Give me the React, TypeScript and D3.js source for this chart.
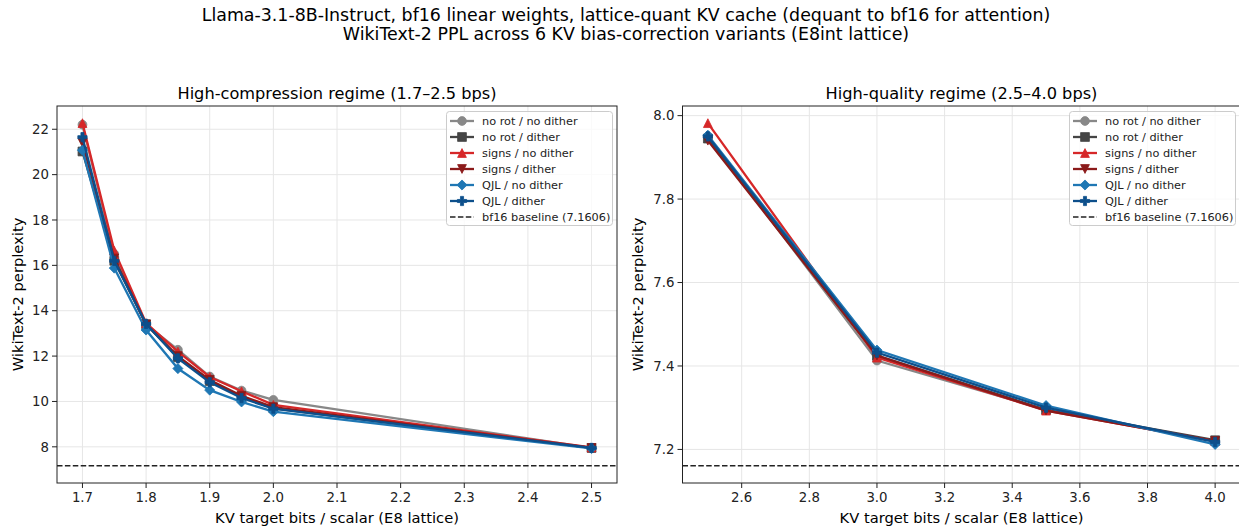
import React, { useEffect, useRef } from 'react';
import * as d3 from 'd3';

// bits per scalar for each regime
const lowBits = [1.7, 1.75, 1.8, 1.85, 1.9, 1.95, 2.0, 2.5];
const highBits = [2.5, 3.0, 3.5, 4.0];

const seriesNames = [
  'no rot / no dither',
  'no rot / dither',
  'signs / no dither',
  'signs / dither',
  'QJL / no dither',
  'QJL / dither',
];
const seriesColors = ['#888888', '#454545', '#d62728', '#8b1a1a', '#1f77b4', '#0d4f8b'];
const seriesMarkers = ['circle', 'square', 'triUp', 'triDown', 'diamond', 'plus'];

// high-compression regime PPL
const lowNoRotNoDither = [22.2, 16.5, 13.4, 12.28, 11.1, 10.48, 10.07, 7.95];
const lowNoRotDither = [21.02, 16.2, 13.4, 11.95, 10.9, 10.2, 9.7, 7.95];
const lowSignsNoDither = [22.27, 16.65, 13.45, 12.2, 11.08, 10.45, 9.85, 7.97];
const lowSignsDither = [21.4, 16.3, 13.4, 12.0, 10.95, 10.25, 9.75, 7.95];
const lowQjlNoDither = [21.08, 15.88, 13.15, 11.45, 10.5, 9.98, 9.55, 7.93];
const lowQjlDither = [21.65, 16.2, 13.42, 11.9, 10.85, 10.15, 9.68, 7.95];

// high-quality regime PPL
const highNoRotNoDither = [7.95, 7.413, 7.295, 7.22];
const highNoRotDither = [7.945, 7.425, 7.295, 7.222];
const highSignsNoDither = [7.982, 7.42, 7.293, 7.22];
const highSignsDither = [7.94, 7.425, 7.293, 7.22];
const highQjlNoDither = [7.953, 7.438, 7.305, 7.212];
const highQjlDither = [7.95, 7.432, 7.3, 7.218];

const baselinePPL = 7.1606;

const lowXTicks = [1.7, 1.8, 1.9, 2.0, 2.1, 2.2, 2.3, 2.4, 2.5];
const lowYTicks = [8, 10, 12, 14, 16, 18, 20, 22];
const highXTicks = [2.6, 2.8, 3.0, 3.2, 3.4, 3.6, 3.8, 4.0];
const highYTicks = [7.2, 7.4, 7.6, 7.8, 8.0];

const FONT = '"DejaVu Sans", Verdana, sans-serif';

function markerPath(kind: string, s: number) {
  const h = s / 2;
  switch (kind) {
    case 'circle':
      return `M${h},0A${h},${h} 0 1,1 ${-h},0A${h},${h} 0 1,1 ${h},0Z`;
    case 'square':
      return `M${-h},${-h}H${h}V${h}H${-h}Z`;
    case 'triUp':
      return `M0,${-h}L${h},${h}L${-h},${h}Z`;
    case 'triDown':
      return `M0,${h}L${h},${-h}L${-h},${-h}Z`;
    case 'diamond': {
      const d = h * 1.15;
      return `M0,${-d}L${d},0L0,${d}L${-d},0Z`;
    }
    default: {
      const a = h * 1.05;
      const w = a / 3;
      return `M${-w},${-a}H${w}V${-w}H${a}V${w}H${w}V${a}H${-w}V${w}H${-a}V${-w}H${-w}Z`;
    }
  }
}

const App = () => {
  const ref = useRef<SVGSVGElement | null>(null);

  useEffect(() => {
    if (!ref.current) return;
    document.body.style.margin = '0';
    const svg = d3.select(ref.current);
    svg.selectAll('*').remove();

    svg.append('text')
      .attr('x', 626).attr('y', 21)
      .attr('text-anchor', 'middle')
      .attr('font-size', 17.4)
      .text('Llama-3.1-8B-Instruct, bf16 linear weights, lattice-quant KV cache (dequant to bf16 for attention)');
    svg.append('text')
      .attr('x', 626).attr('y', 40)
      .attr('text-anchor', 'middle')
      .attr('font-size', 17.4)
      .text('WikiText-2 PPL across 6 KV bias-correction variants (E8int lattice)');

    const panels = [
      {
        left: 57, right: 617, top: 106, bottom: 483,
        bits: lowBits,
        series: [lowNoRotNoDither, lowNoRotDither, lowSignsNoDither, lowSignsDither, lowQjlNoDither, lowQjlDither],
        xTicks: lowXTicks, yTicks: lowYTicks,
        xFmt: d3.format('.1f'), yFmt: d3.format('d'),
        title: 'High-compression regime (1.7–2.5 bps)',
        ylabelX: 23,
      },
      {
        left: 682.5, right: 1240.5, top: 106, bottom: 483,
        bits: highBits,
        series: [highNoRotNoDither, highNoRotDither, highSignsNoDither, highSignsDither, highQjlNoDither, highQjlDither],
        xTicks: highXTicks, yTicks: highYTicks,
        xFmt: d3.format('.1f'), yFmt: d3.format('.1f'),
        title: 'High-quality regime (2.5–4.0 bps)',
        ylabelX: 643,
      },
    ];

    panels.forEach((p) => {
      const xExt = d3.extent(p.bits) as [number, number];
      const allY = p.series.flat().concat([baselinePPL]);
      const yExt = d3.extent(allY) as [number, number];
      const xPad = (xExt[1] - xExt[0]) * 0.05;
      const yPad = (yExt[1] - yExt[0]) * 0.05;

      const x = d3.scaleLinear().domain([xExt[0] - xPad, xExt[1] + xPad]).range([p.left, p.right]);
      const y = d3.scaleLinear().domain([yExt[0] - yPad, yExt[1] + yPad]).range([p.bottom, p.top]);

      const g = svg.append('g');

      // grid
      g.selectAll('.gx').data(p.xTicks).enter().append('line')
        .attr('x1', (d) => x(d)).attr('x2', (d) => x(d))
        .attr('y1', p.top).attr('y2', p.bottom)
        .attr('stroke', '#e6e6e6').attr('stroke-width', 1);
      g.selectAll('.gy').data(p.yTicks).enter().append('line')
        .attr('x1', p.left).attr('x2', p.right)
        .attr('y1', (d) => y(d)).attr('y2', (d) => y(d))
        .attr('stroke', '#e6e6e6').attr('stroke-width', 1);

      // baseline
      g.append('line')
        .attr('x1', p.left).attr('x2', p.right)
        .attr('y1', y(baselinePPL)).attr('y2', y(baselinePPL))
        .attr('stroke', '#222').attr('stroke-width', 1.5)
        .attr('stroke-dasharray', '5.5,2.4');

      const line = d3.line<number>()
        .x((_, i) => x(p.bits[i]))
        .y((d) => y(d));

      p.series.forEach((vals, si) => {
        const sg = g.append('g');
        sg.append('path')
          .attr('d', line(vals))
          .attr('fill', 'none')
          .attr('stroke', seriesColors[si])
          .attr('stroke-width', 2.3);
        sg.selectAll('path.m').data(vals).enter().append('path')
          .attr('class', 'm')
          .attr('transform', (d, i) => `translate(${x(p.bits[i])},${y(d)})`)
          .attr('d', markerPath(seriesMarkers[si], 8.8))
          .attr('fill', seriesColors[si])
          .attr('stroke', seriesColors[si])
          .attr('stroke-width', 0.8);
      });

      // frame
      g.append('rect')
        .attr('x', p.left).attr('y', p.top)
        .attr('width', p.right - p.left).attr('height', p.bottom - p.top)
        .attr('fill', 'none').attr('stroke', '#222').attr('stroke-width', 1);

      // x ticks
      p.xTicks.forEach((t) => {
        g.append('line')
          .attr('x1', x(t)).attr('x2', x(t))
          .attr('y1', p.bottom).attr('y2', p.bottom + 5)
          .attr('stroke', '#222');
        g.append('text')
          .attr('x', x(t)).attr('y', p.bottom + 19)
          .attr('text-anchor', 'middle')
          .attr('font-size', 13.3)
          .attr('fill', '#222')
          .text(p.xFmt(t));
      });
      // y ticks
      p.yTicks.forEach((t) => {
        g.append('line')
          .attr('x1', p.left - 5).attr('x2', p.left)
          .attr('y1', y(t)).attr('y2', y(t))
          .attr('stroke', '#222');
        g.append('text')
          .attr('x', p.left - 8).attr('y', y(t) + 4.7)
          .attr('text-anchor', 'end')
          .attr('font-size', 13.3)
          .attr('fill', '#222')
          .text(p.yFmt(t));
      });

      g.append('text')
        .attr('x', (p.left + p.right) / 2)
        .attr('y', 99)
        .attr('text-anchor', 'middle')
        .attr('font-size', 16.2)
        .text(p.title);

      g.append('text')
        .attr('x', (p.left + p.right) / 2).attr('y', 523)
        .attr('text-anchor', 'middle')
        .attr('font-size', 14.7)
        .text('KV target bits / scalar (E8 lattice)');

      g.append('text')
        .attr('transform', `translate(${p.ylabelX},${(p.top + p.bottom) / 2}) rotate(-90)`)
        .attr('text-anchor', 'middle')
        .attr('font-size', 14.7)
        .text('WikiText-2 perplexity');

      // legend
      const lgW = 166;
      const lgH = 114;
      const lgX = Math.min(p.right, 1240) - 5 - lgW;
      const lgY = p.top + 5;
      const lg = g.append('g').attr('transform', `translate(${lgX},${lgY})`);
      lg.append('rect')
        .attr('x', 0.5).attr('y', 0.5)
        .attr('width', lgW).attr('height', lgH)
        .attr('rx', 3)
        .attr('fill', 'rgba(255,255,255,0.8)')
        .attr('stroke', '#cccccc');
      const names = seriesNames.concat(['bf16 baseline (7.1606)']);
      names.forEach((name, i) => {
        const cy = 10 + i * 16;
        if (i < seriesNames.length) {
          lg.append('line')
            .attr('x1', 4).attr('x2', 28)
            .attr('y1', cy).attr('y2', cy)
            .attr('stroke', seriesColors[i]).attr('stroke-width', 2.3);
          lg.append('path')
            .attr('transform', `translate(16,${cy})`)
            .attr('d', markerPath(seriesMarkers[i], 8.8))
            .attr('fill', seriesColors[i])
            .attr('stroke', seriesColors[i])
            .attr('stroke-width', 0.8);
        } else {
          lg.append('line')
            .attr('x1', 4).attr('x2', 28)
            .attr('y1', cy).attr('y2', cy)
            .attr('stroke', '#222').attr('stroke-width', 1.5)
            .attr('stroke-dasharray', '5.5,2.4');
        }
        lg.append('text')
          .attr('x', 36).attr('y', cy + 4)
          .attr('font-size', 11.3)
          .attr('fill', '#222')
          .text(name);
      });
    });
  }, []);

  return (
    <svg
      ref={ref}
      width={1239}
      height={527}
      style={{ display: 'block', fontFamily: FONT, background: '#fff' }}
    />
  );
};

export default App;
